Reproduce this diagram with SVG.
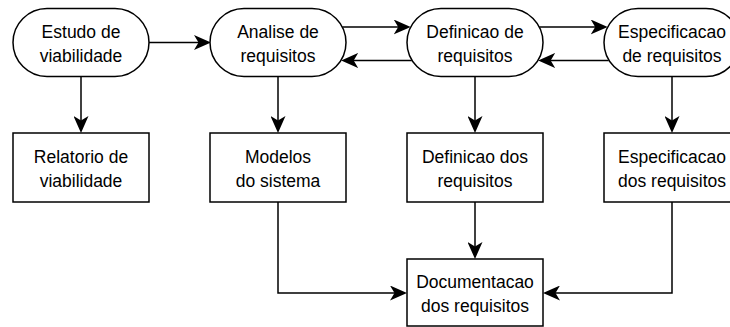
<svg xmlns="http://www.w3.org/2000/svg" width="730" height="327" viewBox="0 0 730 327">
<style>
.n{fill:#fff;stroke:#000;stroke-width:1.5}
.t{font-family:"Liberation Sans",Arial,sans-serif;font-size:17.5px;fill:#000;text-anchor:middle}
.c{fill:none;stroke:#000;stroke-width:1.5;marker-end:url(#ah)}
</style>
<defs>
<marker id="ah" markerUnits="userSpaceOnUse" orient="auto" markerWidth="17" markerHeight="15" viewBox="0 0 17 15" refX="13" refY="7.5">
<path d="M17,7.5 L0,0 L4.5,7.5 L0,15 Z" fill="#000"/>
</marker>
</defs>
<rect width="730" height="327" fill="#fff"/>
<g id="connectors">
<path class="c" d="M149,42.5 H207"/>
<path class="c" d="M342.3,27 H406.7"/>
<path class="c" d="M411.8,60.5 H345.2"/>
<path class="c" d="M539.3,27 H603.7"/>
<path class="c" d="M608.7,60.5 H542.2"/>
<path class="c" d="M81,76.5 V129"/>
<path class="c" d="M278,76.5 V129"/>
<path class="c" d="M475,76.5 V129"/>
<path class="c" d="M672,76.5 V129"/>
<path class="c" d="M278,202 V293 H403"/>
<path class="c" d="M475,202 V255"/>
<path class="c" d="M672,202 V293 H547"/>
</g>
<g id="estudo">
<rect class="n" x="13" y="8.5" width="136" height="68" rx="34" ry="34"/>
<text class="t" x="81" y="38">Estudo de</text>
<text class="t" x="81" y="61.5">viabilidade</text>
</g>
<g id="analise">
<rect class="n" x="210" y="8.5" width="136" height="68" rx="34" ry="34"/>
<text class="t" x="278" y="38">Analise de</text>
<text class="t" x="278" y="61.5">requisitos</text>
</g>
<g id="definicao">
<rect class="n" x="407" y="8.5" width="136" height="68" rx="34" ry="34"/>
<text class="t" x="475" y="38">Definicao de</text>
<text class="t" x="475" y="61.5">requisitos</text>
</g>
<g id="especificacao">
<rect class="n" x="604" y="8.5" width="136" height="68" rx="34" ry="34"/>
<text class="t" x="672" y="38">Especificacao</text>
<text class="t" x="672" y="61.5">de requisitos</text>
</g>
<g id="relatorio">
<rect class="n" x="13" y="133" width="136" height="69"/>
<text class="t" x="81" y="163">Relatorio de</text>
<text class="t" x="81" y="186.5">viabilidade</text>
</g>
<g id="modelos">
<rect class="n" x="210" y="133" width="136" height="69"/>
<text class="t" x="278" y="163">Modelos</text>
<text class="t" x="278" y="186.5">do sistema</text>
</g>
<g id="definicao-dos">
<rect class="n" x="407" y="133" width="136" height="69"/>
<text class="t" x="475" y="163">Definicao dos</text>
<text class="t" x="475" y="186.5">requisitos</text>
</g>
<g id="especificacao-dos">
<rect class="n" x="604" y="133" width="136" height="69"/>
<text class="t" x="672" y="163">Especificacao</text>
<text class="t" x="672" y="186.5">dos requisitos</text>
</g>
<g id="documentacao">
<rect class="n" x="407" y="259" width="136" height="67"/>
<text class="t" x="475" y="288">Documentacao</text>
<text class="t" x="475" y="311.5">dos requisitos</text>
</g>
</svg>
